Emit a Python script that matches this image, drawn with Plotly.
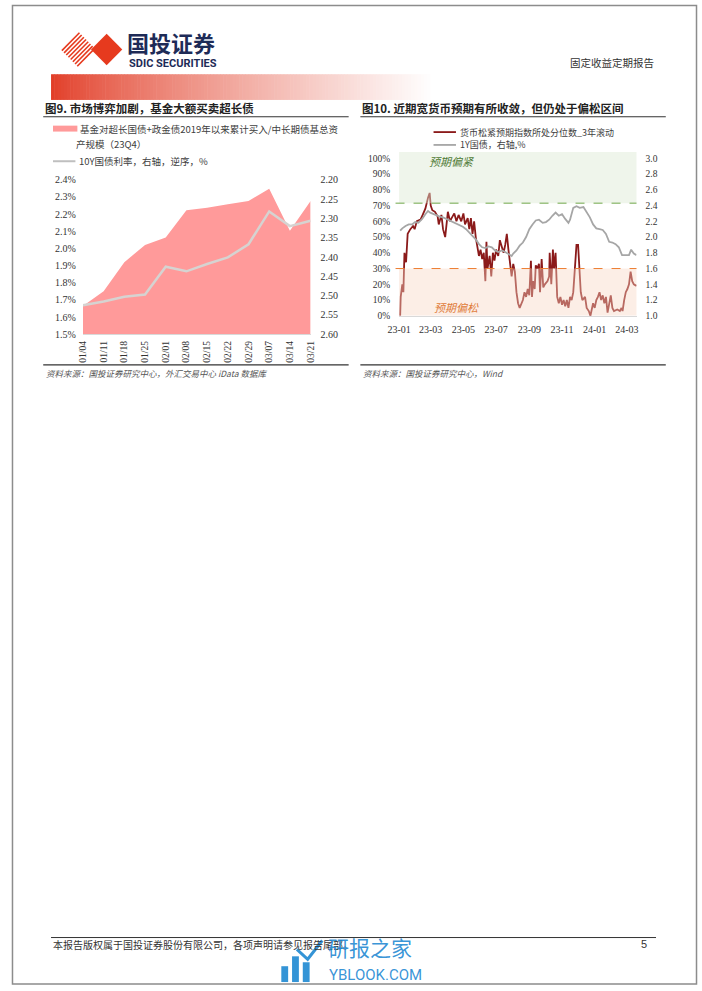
import plotly.graph_objects as go

# ---------------- data: 图9 ----------------
fig9_dates = ["01/04", "01/11", "01/18", "01/25", "02/01", "02/08", "02/15",
              "02/22", "02/29", "03/07", "03/14", "03/21"]
fig9_fund_pct = [1.665, 1.75, 1.92, 2.02, 2.063, 2.222, 2.237, 2.257, 2.276,
                 2.347, 2.103, 2.276]
fig9_cgb10y = [2.525, 2.515, 2.503, 2.497, 2.425, 2.437, 2.418, 2.401, 2.367,
               2.282, 2.320, 2.306]
fig9_left_ticks = [1.5, 1.6, 1.7, 1.8, 1.9, 2.0, 2.1, 2.2, 2.3, 2.4]
fig9_right_ticks = [2.20, 2.25, 2.30, 2.35, 2.40, 2.45, 2.50, 2.55, 2.60]

# ---------------- data: 图10 ----------------
fig10_idx_dates = [
    "2023-01-03", "2023-01-04", "2023-01-07", "2023-01-09", "2023-01-11", "2023-01-14", "2023-01-17",
    "2023-01-22", "2023-01-27", "2023-01-30", "2023-02-03", "2023-02-10", "2023-02-14", "2023-02-19",
    "2023-02-24", "2023-02-27", "2023-03-01", "2023-03-04", "2023-03-09", "2023-03-14", "2023-03-16",
    "2023-03-21", "2023-03-24", "2023-03-28", "2023-04-02", "2023-04-06", "2023-04-09", "2023-04-14",
    "2023-04-18", "2023-04-22", "2023-04-27", "2023-05-01", "2023-05-04", "2023-05-09", "2023-05-12",
    "2023-05-15", "2023-05-18", "2023-05-21", "2023-05-24", "2023-05-27", "2023-05-30", "2023-06-02",
    "2023-06-05", "2023-06-08", "2023-06-11", "2023-06-13", "2023-06-15", "2023-06-19", "2023-06-22",
    "2023-06-25", "2023-06-28", "2023-07-01", "2023-07-05", "2023-07-08", "2023-07-12", "2023-07-15",
    "2023-07-18", "2023-07-21", "2023-07-24", "2023-07-27", "2023-07-30", "2023-08-02", "2023-08-05",
    "2023-08-08", "2023-08-11", "2023-08-14", "2023-08-17", "2023-08-20", "2023-08-23", "2023-08-26",
    "2023-08-29", "2023-09-01", "2023-09-04", "2023-09-06", "2023-09-08", "2023-09-11", "2023-09-13",
    "2023-09-16", "2023-09-19", "2023-09-21", "2023-09-24", "2023-09-27", "2023-09-30", "2023-10-05",
    "2023-10-08", "2023-10-09", "2023-10-12", "2023-10-15", "2023-10-17", "2023-10-20", "2023-10-23",
    "2023-10-26", "2023-10-29", "2023-11-01", "2023-11-04", "2023-11-07", "2023-11-10", "2023-11-13",
    "2023-11-16", "2023-11-19", "2023-11-22", "2023-11-25", "2023-11-28", "2023-12-01", "2023-12-03",
    "2023-12-06", "2023-12-09", "2023-12-14", "2023-12-17", "2023-12-21", "2023-12-24", "2023-12-29",
    "2024-01-01", "2024-01-04", "2024-01-07", "2024-01-10", "2024-01-13", "2024-01-16", "2024-01-19",
    "2024-01-22", "2024-01-25", "2024-01-28", "2024-01-31", "2024-02-03", "2024-02-06", "2024-02-12",
    "2024-02-17", "2024-02-20", "2024-02-22", "2024-02-25", "2024-02-28", "2024-03-02", "2024-03-05",
    "2024-03-08", "2024-03-11", "2024-03-14", "2024-03-19"]
fig10_idx_pct = [
    0, 12, 20, 15, 40, 34, 52,
    55, 57, 55, 60, 61, 64, 68,
    75, 78, 70, 67, 66, 63, 58,
    64, 55, 50, 66, 60, 62, 65,
    60, 64, 60, 65, 58, 62, 55,
    62, 52, 60, 50, 45, 38, 42,
    36, 40, 22, 47, 30, 38, 25,
    40, 35, 42, 38, 48, 44, 40,
    45, 52, 42, 35, 25, 33, 28,
    15, 8, 5, 7, 10, 15, 12,
    17, 13, 35, 12, 22, 17, 32,
    30, 33, 15, 36, 18, 20, 22,
    25, 40, 20, 42, 30, 40, 12,
    8, 12, 7, 10, 6, 10, 5,
    12, 10, 15, 32, 45, 45, 30,
    15, 10, 12, 5, 3, 0, 8,
    5, 10, 12, 15, 10, 13, 8,
    12, 2, 8, 13, 5, 3, 4,
    3, 5, 3, 10, 15, 17, 20,
    28, 22, 20, 19]

fig10_1y_dates = [
    "2023-01-03", "2023-01-07", "2023-01-13", "2023-01-19", "2023-01-25", "2023-01-31", "2023-02-06",
    "2023-02-13", "2023-02-19", "2023-02-24", "2023-02-28", "2023-03-06", "2023-03-12", "2023-03-18",
    "2023-03-24", "2023-03-30", "2023-04-05", "2023-04-11", "2023-04-17", "2023-04-23", "2023-04-30",
    "2023-05-06", "2023-05-12", "2023-05-18", "2023-05-24", "2023-05-30", "2023-06-05", "2023-06-11",
    "2023-06-17", "2023-06-23", "2023-06-29", "2023-07-05", "2023-07-12", "2023-07-18", "2023-07-24",
    "2023-07-30", "2023-08-02", "2023-08-08", "2023-08-14", "2023-08-20", "2023-08-26", "2023-09-01",
    "2023-09-07", "2023-09-13", "2023-09-19", "2023-09-26", "2023-10-02", "2023-10-08", "2023-10-14",
    "2023-10-20", "2023-10-26", "2023-11-01", "2023-11-07", "2023-11-13", "2023-11-16", "2023-11-22",
    "2023-11-28", "2023-12-04", "2023-12-11", "2023-12-17", "2023-12-23", "2023-12-29", "2024-01-04",
    "2024-01-10", "2024-01-16", "2024-01-22", "2024-01-28", "2024-02-03", "2024-02-09", "2024-02-15",
    "2024-02-21", "2024-02-28", "2024-03-05", "2024-03-09", "2024-03-14", "2024-03-19"]
fig10_1y_yield = [
    2.08, 2.11, 2.14, 2.16, 2.16, 2.19, 2.18,
    2.23, 2.29, 2.33, 2.31, 2.29, 2.28, 2.26,
    2.25, 2.23, 2.21, 2.19, 2.18, 2.15, 2.13,
    2.10, 2.06, 2.02, 1.97, 1.91, 1.87, 1.86,
    1.88, 1.87, 1.83, 1.81, 1.83, 1.81, 1.79,
    1.76, 1.79, 1.83, 1.89, 1.93, 2.00, 2.10,
    2.16, 2.21, 2.22, 2.18, 2.19, 2.22, 2.27,
    2.31, 2.27, 2.29, 2.23, 2.18, 2.22, 2.37,
    2.39, 2.37, 2.38, 2.31, 2.25, 2.16, 2.11,
    2.10, 2.09, 2.04, 1.94, 1.93, 1.91, 1.87,
    1.77, 1.77, 1.77, 1.84, 1.79, 1.77]
fig10_tight_level = 71.5
fig10_loose_level = 30
fig10_left_ticks = [0, 10, 20, 30, 40, 50, 60, 70, 80, 90, 100]
fig10_right_ticks = [1.0, 1.2, 1.4, 1.6, 1.8, 2.0, 2.2, 2.4, 2.6, 2.8, 3.0]
fig10_xtick_dates = ["2023-01-01", "2023-03-01", "2023-05-01", "2023-07-01", "2023-09-01",
                     "2023-11-01", "2024-01-01", "2024-03-01"]
fig10_xtick_labels = ["23-01", "23-03", "23-05", "23-07", "23-09", "23-11", "24-01", "24-03"]

# ---------------- layout helpers ----------------
W, H = 702, 991
def px(x):
    return x / W
def py(y):
    return 1 - y / H

SERIF = "Liberation Serif, 'Noto Sans CJK SC', serif"
CJK = "'Noto Sans CJK SC', 'Liberation Serif', sans-serif"
TXT = "#333333"

fig = go.Figure()

# 图9 traces
fig.add_trace(go.Scatter(x=fig9_dates, y=fig9_fund_pct, mode="none", fill="tozeroy",
                         fillcolor="#FF9A9A", xaxis="x", yaxis="y", showlegend=False))
fig.add_trace(go.Scatter(x=fig9_dates, y=fig9_cgb10y, mode="lines",
                         line=dict(color="#D6D3D1", width=2.5), xaxis="x", yaxis="y2",
                         showlegend=False))

# 图10 traces
fig.add_trace(go.Scatter(x=fig10_idx_dates, y=fig10_idx_pct, mode="lines",
                         line=dict(color="#8B1A1A", width=1.8), xaxis="x3", yaxis="y3",
                         showlegend=False))
fig.add_trace(go.Scatter(x=fig10_1y_dates, y=fig10_1y_yield, mode="lines",
                         line=dict(color="#A6A6A6", width=1.8), xaxis="x3", yaxis="y4",
                         showlegend=False))

tickfont = dict(family=SERIF, size=10, color=TXT)

fig.update_layout(
    width=W, height=H, margin=dict(l=0, r=0, t=0, b=0),
    paper_bgcolor="white", plot_bgcolor="rgba(0,0,0,0)",
    font=dict(family=SERIF, color=TXT),
    xaxis=dict(domain=[px(72.7), px(306)], type="category", range=[0, 11],
               tickangle=-90, tickfont=dict(family=SERIF, size=9.5, color=TXT),
               showgrid=False, zeroline=False, showline=True, linecolor="#D9D9D9",
               ticks="", ticklabelstandoff=2),
    yaxis=dict(domain=[py(333), py(176.7)], range=[1.5, 2.4], tickvals=fig9_left_ticks,
               ticktext=[f"{v:.1f}%" for v in fig9_left_ticks], tickfont=tickfont,
               showgrid=False, zeroline=False, ticks="", ticklabelstandoff=6),
    yaxis2=dict(overlaying="y", side="right", range=[2.60, 2.20], tickvals=fig9_right_ticks,
                ticktext=[f"{v:.2f}" for v in fig9_right_ticks], tickfont=tickfont,
                showgrid=False, zeroline=False, ticks="", ticklabelstandoff=9),
    xaxis3=dict(domain=[px(396.7), px(640)], type="date", range=["2023-01-01", "2024-03-19"],
                tickvals=fig10_xtick_dates, ticktext=fig10_xtick_labels,
                tickfont=tickfont, showgrid=False, zeroline=False, showline=True,
                linecolor="#D9D9D9", ticks="", ticklabelstandoff=4, anchor="y3"),
    yaxis3=dict(domain=[py(314.3), py(148.6)], range=[0, 104], tickvals=fig10_left_ticks,
                ticktext=[f"{v}%" for v in fig10_left_ticks],
                tickfont=dict(family=SERIF, size=9.5, color=TXT), anchor="x3",
                showgrid=False, zeroline=False, ticks="", ticklabelstandoff=8),
    yaxis4=dict(overlaying="y3", side="right", range=[1.0, 3.08], tickvals=fig10_right_ticks,
                ticktext=[f"{v:.1f}" for v in fig10_right_ticks],
                tickfont=dict(family=SERIF, size=9.5, color=TXT), anchor="x3",
                showgrid=False, zeroline=False, ticks="", ticklabelstandoff=8),
)

shapes = []
ann = []

# page border
shapes.append(dict(type="rect", xref="paper", yref="paper", x0=px(0.5), x1=px(701.5),
                   y0=py(990), y1=py(0.5), line=dict(color="#8C8C8C", width=1.5)))

# header gradient bar
N = 120
x_start, x_end = 40, 432
wseg = (x_end - x_start) / N
for i in range(N):
    t = i / (N - 1)
    s = t ** 0.8
    r = int(226 + (255 - 226) * s)
    g = int(62 + (255 - 62) * s)
    b = int(40 + (255 - 40) * s)
    shapes.append(dict(type="rect", xref="paper", yref="paper",
                       x0=px(x_start + i * wseg), x1=px(x_start + (i + 1) * wseg + 0.6),
                       y0=py(96), y1=py(70), fillcolor=f"rgb({r},{g},{b})",
                       line=dict(width=0)))

# logo: striped diamond + solid diamond
cx, cy, h = 68, 45, 18
nstripe = 8
for k in range(nstripe):
    t = (k + 0.5) / nstripe
    x0, y0 = cx - h + t * h, cy + t * h
    x1, y1 = cx + t * h, cy - h + t * h
    shapes.append(dict(type="line", xref="paper", yref="paper", x0=px(x0), y0=py(y0),
                       x1=px(x1), y1=py(y1), line=dict(color="#E63A1E", width=1.6)))
dcx, dcy, dh = 97, 45, 16
shapes.append(dict(type="path", xref="paper", yref="paper",
                   path=f"M {px(dcx-dh)} {py(dcy)} L {px(dcx)} {py(dcy-dh)} L {px(dcx+dh)} {py(dcy)} L {px(dcx)} {py(dcy+dh)} Z",
                   fillcolor="#E63A1E", line=dict(width=0)))
ann.append(dict(x=px(117), y=py(37.5), xref="paper", yref="paper", xanchor="left", yanchor="middle",
                text="<b>国投证券</b>", showarrow=False, borderpad=0,
                font=dict(family=CJK, size=22, color="#1E2B57")))
ann.append(dict(x=px(119), y=py(59), xref="paper", yref="paper", xanchor="left", yanchor="middle",
                text="<b>SDIC SECURITIES</b>", showarrow=False, borderpad=0,
                font=dict(family="Roboto, Liberation Sans", size=11, color="#1E2B57")))
ann.append(dict(x=px(660), y=py(58), xref="paper", yref="paper", xanchor="right", yanchor="middle",
                text="固定收益定期报告", showarrow=False,
                font=dict(family=CJK, size=10.5, color=TXT)))

# chart titles
ann.append(dict(x=px(32), y=py(104), xref="paper", yref="paper", xanchor="left", yanchor="middle",
                text="<b>图9. 市场博弈加剧，基金大额买卖超长债</b>", showarrow=False,
                font=dict(family=CJK, size=11.5, color="#222222")))
ann.append(dict(x=px(357), y=py(104), xref="paper", yref="paper", xanchor="left", yanchor="middle",
                text="<b>图10. 近期宽货币预期有所收敛，但仍处于偏松区间</b>", showarrow=False,
                font=dict(family=CJK, size=11.5, color="#222222")))
for (a, b) in [(32, 345), (357, 670)]:
    shapes.append(dict(type="line", xref="paper", yref="paper", x0=px(a), x1=px(b),
                       y0=py(113), y1=py(113), line=dict(color="#333333", width=1.2)))
    shapes.append(dict(type="line", xref="paper", yref="paper", x0=px(a), x1=px(b),
                       y0=py(364), y1=py(364), line=dict(color="#333333", width=1.2)))

# sources
ann.append(dict(x=px(33), y=py(372), xref="paper", yref="paper", xanchor="left", yanchor="middle",
                text="<i>资料来源：国投证券研究中心，外汇交易中心 iData 数据库</i>", showarrow=False,
                font=dict(family=CJK, size=8.5, color="#555555")))
ann.append(dict(x=px(358), y=py(372), xref="paper", yref="paper", xanchor="left", yanchor="middle",
                text="<i>资料来源：国投证券研究中心，Wind</i>", showarrow=False,
                font=dict(family=CJK, size=8.5, color="#555555")))

# 图9 legend
shapes.append(dict(type="rect", xref="paper", yref="paper", x0=px(42), x1=px(67),
                   y0=py(128), y1=py(122), fillcolor="#FF9A9A", line=dict(width=0)))
ann.append(dict(x=px(68), y=py(125.5), xref="paper", yref="paper", xanchor="left", yanchor="middle",
                text="基金对超长国债+政金债2019年以来累计买入/中长期债基总资", showarrow=False,
                font=dict(family=CJK, size=9.5, color="#404040")))
ann.append(dict(x=px(64), y=py(141), xref="paper", yref="paper", xanchor="left", yanchor="middle",
                text="产规模（23Q4）", showarrow=False,
                font=dict(family=CJK, size=9.5, color="#404040")))
shapes.append(dict(type="line", xref="paper", yref="paper", x0=px(42), x1=px(65),
                   y0=py(158), y1=py(158), line=dict(color="#BFBFBF", width=2)))
ann.append(dict(x=px(67), y=py(158), xref="paper", yref="paper", xanchor="left", yanchor="middle",
                text="10Y国债利率，右轴，逆序，%", showarrow=False,
                font=dict(family=CJK, size=9.5, color="#404040")))

# 图10 legend
shapes.append(dict(type="line", xref="paper", yref="paper", x0=px(432), x1=px(455),
                   y0=py(128.5), y1=py(128.5), line=dict(color="#8B1A1A", width=1.8)))
ann.append(dict(x=px(458), y=py(128.5), xref="paper", yref="paper", xanchor="left", yanchor="middle",
                text="货币松紧预期指数所处分位数_3年滚动", showarrow=False,
                font=dict(family=CJK, size=9, color="#404040"), borderpad=0))
shapes.append(dict(type="line", xref="paper", yref="paper", x0=px(432), x1=px(455),
                   y0=py(141.5), y1=py(141.5), line=dict(color="#A6A6A6", width=1.8)))
ann.append(dict(x=px(458), y=py(141.5), xref="paper", yref="paper", xanchor="left", yanchor="middle",
                text="1Y国债，右轴,%", showarrow=False,
                font=dict(family=CJK, size=9, color="#404040"), borderpad=0))

# 图10 zones (semi-transparent overlays on top of lines)
shapes.append(dict(type="rect", xref="x3 domain", yref="y3", x0=0, x1=1,
                   y0=fig10_tight_level, y1=104, fillcolor="#DCE9D2", opacity=0.45,
                   line=dict(width=0), layer="above"))
shapes.append(dict(type="rect", xref="x3 domain", yref="y3", x0=0, x1=1,
                   y0=0, y1=fig10_loose_level, fillcolor="#F7D6C4", opacity=0.42,
                   line=dict(width=0), layer="above"))
shapes.append(dict(type="line", xref="x3 domain", yref="y3", x0=-0.015, x1=1,
                   y0=fig10_tight_level, y1=fig10_tight_level,
                   line=dict(color="#6FA84A", width=1, dash="dash"), layer="above"))
shapes.append(dict(type="line", xref="x3 domain", yref="y3", x0=-0.015, x1=1,
                   y0=fig10_loose_level, y1=fig10_loose_level,
                   line=dict(color="#ED7D31", width=1, dash="dash"), layer="above"))
ann.append(dict(x=px(425), y=py(158), xref="paper", yref="paper", xanchor="left", yanchor="middle",
                text="<i>预期偏紧</i>", showarrow=False,
                font=dict(family=CJK, size=11, color="#4E7A35")))
ann.append(dict(x=px(430), y=py(305), xref="paper", yref="paper", xanchor="left", yanchor="middle",
                text="<i>预期偏松</i>", showarrow=False,
                font=dict(family=CJK, size=11, color="#E07B39")))

# footer
shapes.append(dict(type="line", xref="paper", yref="paper", x0=px(40), x1=px(660),
                   y0=py(943), y1=py(943), line=dict(color="#333333", width=1)))
ann.append(dict(x=px(40), y=py(950), xref="paper", yref="paper", xanchor="left", yanchor="middle",
                text="本报告版权属于国投证券股份有限公司，各项声明请参见报告尾部。", showarrow=False,
                font=dict(family=CJK, size=10, color=TXT)))
ann.append(dict(x=px(648), y=py(950), xref="paper", yref="paper", xanchor="center", yanchor="middle",
                text="5", showarrow=False, font=dict(family="Liberation Sans", size=11, color=TXT)))

# watermark
WB = "rgba(30,136,210,0.9)"
for (bx0, bx1, top) in [(276, 283, 972), (287, 294, 962), (298, 305, 968)]:
    shapes.append(dict(type="rect", xref="paper", yref="paper", x0=px(bx0), x1=px(bx1),
                       y0=py(988), y1=py(top), fillcolor=WB, line=dict(width=0)))
shapes.append(dict(type="path", xref="paper", yref="paper",
                   path=f"M {px(292)} {py(955)} L {px(303)} {py(965)} L {px(318)} {py(946)}",
                   line=dict(color=WB, width=3)))
ann.append(dict(x=px(323), y=py(953), xref="paper", yref="paper", xanchor="left", yanchor="middle",
                text="研报之家", showarrow=False, borderpad=0,
                font=dict(family=CJK, size=21, color=WB)))
ann.append(dict(x=px(324), y=py(980.5), xref="paper", yref="paper", xanchor="left", yanchor="middle",
                text="YBLOOK.COM", showarrow=False, borderpad=0,
                font=dict(family="Roboto, Liberation Sans", size=15, color=WB)))

fig.update_layout(shapes=shapes, annotations=ann)
fig.write_html("out.html")
